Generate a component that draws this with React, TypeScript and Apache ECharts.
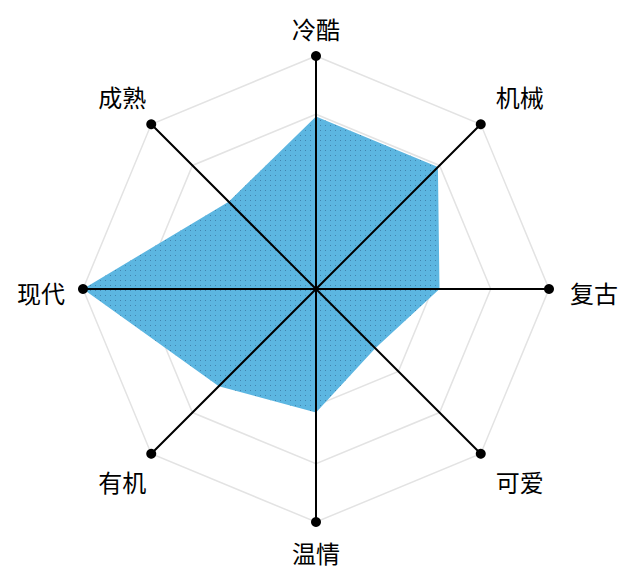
import React, { useEffect, useRef } from 'react';
import * as echarts from 'echarts';

// indicators in ECharts order (counter-clockwise from the top)
const indicators = ['冷酷', '成熟', '现代', '有机', '温情', '可爱', '复古', '机械'];
const values = [74, 53, 100, 59, 53, 36, 53, 74];
const maxValue = 100;

// label placement style per indicator (same order)
const labelSides = ['t', 'tl', 'l', 'bl', 'b', 'br', 'r', 'tr'];

const labelFont = {
  color: '#000000',
  fontSize: 24,
  fontFamily: 'Noto Sans CJK SC',
};

function App() {
  const chartRef = useRef<HTMLDivElement | null>(null);

  useEffect(() => {
    document.body.style.margin = '0';
    if (!chartRef.current) return undefined;

    const myChart = echarts.init(chartRef.current, null, { renderer: 'svg' });

    const base = {
      center: [316, 289],
      radius: 233,
      startAngle: 90,
      splitNumber: 4,
      shape: 'polygon',
      indicator: indicators.map((name) => ({ name, max: maxValue })),
      axisTick: { show: false },
      axisLabel: { show: false },
      splitArea: { show: false },
    };

    const option = {
      animation: false,
      radar: [
        // grid below the area
        {
          ...base,
          z: 0,
          axisName: { show: false },
          axisLine: { show: false },
          splitLine: { lineStyle: { color: '#e3e3e3', width: 1.5 } },
        },
        // axes, end dots and names above the area
        {
          ...base,
          z: 5,
          nameGap: 7,
          axisName: {
            ...labelFont,
            formatter: (name: string) => {
              const i = indicators.indexOf(name);
              return `{${labelSides[i]}|${name}}`;
            },
            rich: {
              t: { ...labelFont, padding: [0, 0, 9, 0] },
              tl: { ...labelFont, padding: [0, 0, 46, 0] },
              tr: { ...labelFont, padding: [0, 0, 46, 10] },
              l: { ...labelFont, padding: [6, 11, 0, 0] },
              r: { ...labelFont, padding: [6, 0, 0, 14] },
              bl: { ...labelFont, padding: [46, 0, 0, 0] },
              br: { ...labelFont, padding: [46, 0, 0, 10] },
              b: { ...labelFont, padding: [12, 0, 0, 0] },
            },
          },
          axisLine: {
            symbol: ['none', 'circle'],
            symbolSize: [10, 10],
            lineStyle: { color: '#000000', width: 2 },
          },
          splitLine: { show: false },
        },
      ],
      series: [
        {
          type: 'radar',
          radarIndex: 0,
          z: 2,
          symbol: 'none',
          lineStyle: { width: 0 },
          itemStyle: {
            color: '#5cb6e1',
            decal: {
              symbol: 'rect',
              symbolSize: 1,
              color: 'rgba(30, 70, 110, 0.45)',
              dashArrayX: [1, 4],
              dashArrayY: [1, 4],
              rotation: 0,
            },
          },
          areaStyle: { color: '#5cb6e1', opacity: 1 },
          data: [{ value: values, name: 'style' }],
        },
      ],
    };

    myChart.setOption(option);

    return () => {
      myChart.dispose();
    };
  }, []);

  return <div ref={chartRef} style={{ width: '624px', height: '578px' }} />;
}

export default App;
